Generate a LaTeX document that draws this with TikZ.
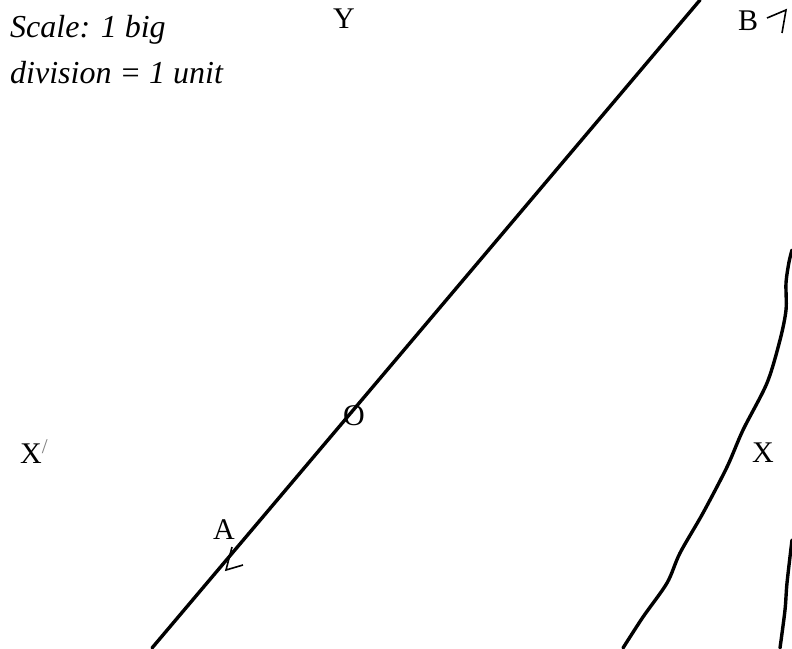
\documentclass[tikz,border=0pt]{standalone}
\usepackage{fontspec}
\setmainfont{Liberation Serif}
\begin{document}
\begin{tikzpicture}[x=1pt,y=-1pt,
  lbl/.style={font=\fontsize{30}{32}\selectfont,anchor=base,inner sep=0pt},
  scaletxt/.style={font=\fontsize{32}{46}\selectfont\itshape,anchor=base west,inner sep=0pt,align=left},
  thickline/.style={line width=3.4pt,line cap=round,line join=round},
  tick/.style={line width=1.6pt,line join=miter}]
\useasboundingbox (0,0) rectangle (792,648);
\fill[white] (0,0) rectangle (792,648);
% main line
\coordinate (L1) at (152,648);
\coordinate (L2) at (700,0);
\draw[thickline] (L1) -- (L2);
% curves
\draw[thickline] plot[smooth] coordinates {(623,648) (643,617) (667,583) (680,553) (703,513) (727,467) (743,430) (767,383) (780,340) (786,310) (786,283) (789,262) (792,250)};
\draw[thickline] plot[smooth] coordinates {(780,648) (785,610) (787,583) (792,540)};
% ticks
\coordinate (tb1) at (767,18); \coordinate (tb2) at (786,10); \coordinate (tb3) at (782,33);
\draw[tick] (tb1) -- (tb2) -- (tb3);
\coordinate (ta1) at (232,547); \coordinate (ta2) at (226,570); \coordinate (ta3) at (243,565);
\draw[tick] (ta1) -- (ta2) -- (ta3);
% labels
\node[lbl] (Y) at (344,28) {Y};
\node[lbl] (B) at (748,30) {B};
\node[lbl] (X) at (763,462) {X};
\node[lbl,anchor=base west] (Xp) at (20,463) {X\textsuperscript{\color{gray}/}};
\node[lbl] (O) at (354,425) {O};
\node[lbl] (A) at (224,539) {A};
\node[scaletxt] (S1) at (10,37) {Scale: 1 big};
\node[scaletxt] (S2) at (10,83) {division = 1 unit};
\end{tikzpicture}
\end{document}
